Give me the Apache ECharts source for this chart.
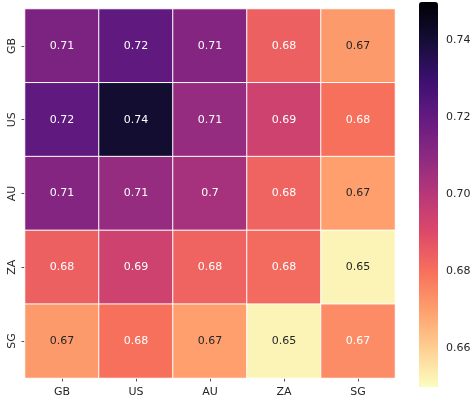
<!DOCTYPE html>
<html>
<head>
<meta charset="utf-8">
<script src="https://cdn.jsdelivr.net/npm/echarts@6/dist/echarts.min.js"></script>
<style>
  html, body { margin: 0; padding: 0; background: #fff; }
  #chart { width: 475px; height: 398px; }
</style>
</head>
<body>
<div id="chart"></div>
<script>
// Country codes along both axes
const countries = ['GB', 'US', 'AU', 'ZA', 'SG'];

// Pairwise similarity scores, one row per country
const rowGB = [0.714, 0.721, 0.712, 0.684, 0.671];
const rowUS = [0.721, 0.741, 0.708, 0.694, 0.680];
const rowAU = [0.712, 0.708, 0.704, 0.683, 0.670];
const rowZA = [0.684, 0.694, 0.683, 0.6815, 0.652];
const rowSG = [0.671, 0.680, 0.670, 0.652, 0.674];

// Colour scale range and colourbar ticks
const scaleMin = 0.65;
const scaleMax = 0.75;
const colorbarTicks = [0.66, 0.68, 0.70, 0.72, 0.74];

// magma colour map, reversed (low values light, high values dark)
const magmaStops = ['#000004', '#140e36', '#3b0f70', '#641a80', '#8c2981',
  '#b73779', '#de4968', '#f7705c', '#fe9f6d', '#fecf92', '#fcfdbf'];
const magmaReversed = magmaStops.slice().reverse();

const rows = [rowGB, rowUS, rowAU, rowZA, rowSG];

function hexToRgb(h) {
  return [parseInt(h.slice(1, 3), 16), parseInt(h.slice(3, 5), 16), parseInt(h.slice(5, 7), 16)];
}

// Colour at a value, interpolated the same way as the visual map
function colorAt(v) {
  let t = (v - scaleMin) / (scaleMax - scaleMin);
  t = Math.max(0, Math.min(1, t));
  const pos = t * (magmaReversed.length - 1);
  const i = Math.min(Math.floor(pos), magmaReversed.length - 2);
  const f = pos - i;
  const a = hexToRgb(magmaReversed[i]);
  const b = hexToRgb(magmaReversed[i + 1]);
  return a.map((c, k) => c + (b[k] - c) * f);
}

// Relative luminance decides light or dark annotation text
function textColorFor(v) {
  const lin = colorAt(v).map(c => {
    c /= 255;
    return c <= 0.03928 ? c / 12.92 : Math.pow((c + 0.055) / 1.055, 2.4);
  });
  const lum = 0.2126 * lin[0] + 0.7152 * lin[1] + 0.0722 * lin[2];
  return lum > 0.408 ? '#262626' : '#ffffff';
}

function fmt2g(v) {
  return String(Number(v.toPrecision(2)));
}

const cells = [];
rows.forEach((row, r) => {
  row.forEach((v, c) => {
    cells.push({
      value: [c, r, v],
      label: { color: textColorFor(v) }
    });
  });
});

const font = 'DejaVu Sans';
const chart = echarts.init(document.getElementById('chart'), null, { renderer: 'canvas' });

chart.setOption({
  animation: false,
  backgroundColor: '#ffffff',
  grid: [
    { left: 25, top: 9, width: 370, height: 371 },
    { left: 419, top: 2, width: 19, height: 385 }
  ],
  xAxis: [
    {
      gridIndex: 0,
      type: 'category',
      data: countries,
      position: 'bottom',
      axisLine: { show: false },
      axisTick: { show: true, alignWithLabel: true, length: 3.5, lineStyle: { color: '#262626', width: 0.8 } },
      axisLabel: { color: '#262626', fontFamily: font, fontSize: 11, margin: 9 },
      splitLine: { show: false }
    },
    {
      gridIndex: 1,
      type: 'value',
      show: false
    }
  ],
  yAxis: [
    {
      gridIndex: 0,
      type: 'category',
      data: countries,
      inverse: true,
      axisLine: { show: false },
      axisTick: { show: true, alignWithLabel: true, length: 3.5, lineStyle: { color: '#262626', width: 0.8 } },
      axisLabel: { color: '#262626', fontFamily: font, fontSize: 11, rotate: 90, margin: 7 },
      splitLine: { show: false }
    },
    {
      gridIndex: 1,
      type: 'value',
      position: 'right',
      min: scaleMin,
      max: scaleMax,
      axisLine: { show: false },
      splitLine: { show: false },
      axisTick: {
        show: true, length: 3.5, customValues: colorbarTicks,
        lineStyle: { color: '#262626', width: 0.8 }
      },
      axisLabel: {
        customValues: colorbarTicks,
        color: '#262626', fontFamily: font, fontSize: 11, margin: 8,
        formatter: v => v.toFixed(2)
      }
    }
  ],
  visualMap: {
    type: 'continuous',
    seriesIndex: 0,
    min: scaleMin,
    max: scaleMax,
    calculable: false,
    orient: 'vertical',
    left: 419,
    top: 2,
    itemWidth: 19,
    itemHeight: 385,
    padding: 0,
    text: null,
    showLabel: false,
    inRange: { color: magmaReversed }
  },
  series: [
    {
      type: 'heatmap',
      xAxisIndex: 0,
      yAxisIndex: 0,
      data: cells,
      itemStyle: { borderColor: '#ffffff', borderWidth: 1 },
      label: {
        show: true,
        fontFamily: font,
        fontSize: 11,
        formatter: p => fmt2g(p.value[2])
      },
      emphasis: { disabled: true }
    }
  ]
});
</script>
</body>
</html>
